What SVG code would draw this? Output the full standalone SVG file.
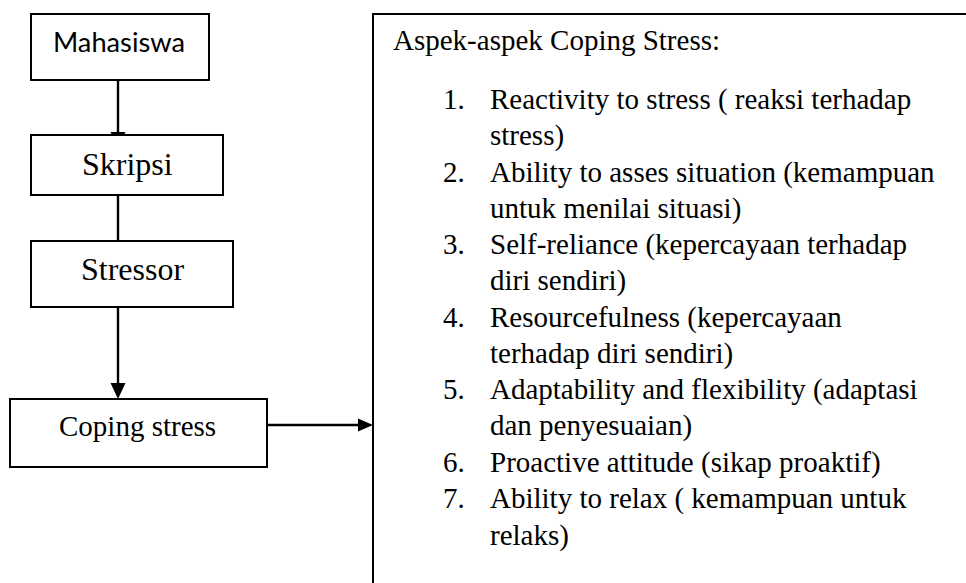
<svg xmlns="http://www.w3.org/2000/svg" width="966" height="583" viewBox="0 0 966 583">
<style>
.box{fill:#fff;stroke:#000;stroke-width:2}
.ln{fill:none;stroke:#000;stroke-width:2.4}
.serif{font-family:"Liberation Serif","Times New Roman",serif;fill:#000}
.sans{font-family:Lato,"Liberation Sans",Arial,sans-serif;fill:#000}
.lst{font-size:29px}
</style>
<rect width="966" height="583" fill="#fff"/>
<g id="connectors">
<line class="ln" x1="118" y1="80" x2="118" y2="134"/>
<path d="M110.5,132 L125.5,132 L118,147 Z" fill="#000"/>
<line class="ln" x1="118" y1="195" x2="118" y2="241"/>
<line class="ln" x1="118" y1="307" x2="118" y2="385"/>
<path d="M110.5,383 L125.5,383 L118,399 Z" fill="#000"/>
<line class="ln" x1="267" y1="425" x2="360" y2="425"/>
<path d="M358,418.5 L358,431.5 L373,425 Z" fill="#000"/>
</g>
<g id="mahasiswa">
<rect class="box" x="31" y="14" width="178" height="66"/>
<text class="sans" x="53" y="52" font-size="26" textLength="132" lengthAdjust="spacingAndGlyphs">Mahasiswa</text>
</g>
<g id="skripsi">
<rect class="box" x="31" y="135" width="192" height="60"/>
<text class="serif" x="82" y="175" font-size="32">Skripsi</text>
</g>
<g id="stressor">
<rect class="box" x="31" y="241" width="202" height="66"/>
<text class="serif" x="81" y="280" font-size="32">Stressor</text>
</g>
<g id="coping">
<rect class="box" x="10" y="399" width="257" height="68"/>
<text class="serif" x="59" y="436" font-size="29">Coping stress</text>
</g>
<g id="aspek">
<rect class="box" x="373" y="14" width="620" height="600"/>
<text class="serif lst" x="393" y="50">Aspek-aspek Coping Stress:</text>
<g class="serif lst">
<text x="443" y="109">1.</text>
<text x="490" y="109">Reactivity to stress ( reaksi terhadap</text>
<text x="490" y="145">stress)</text>
<text x="443" y="182">2.</text>
<text x="490" y="182">Ability to asses situation (kemampuan</text>
<text x="490" y="218">untuk menilai situasi)</text>
<text x="443" y="254">3.</text>
<text x="490" y="254">Self-reliance (kepercayaan terhadap</text>
<text x="490" y="290">diri sendiri)</text>
<text x="443" y="327">4.</text>
<text x="490" y="327">Resourcefulness (kepercayaan</text>
<text x="490" y="363">terhadap diri sendiri)</text>
<text x="443" y="399">5.</text>
<text x="490" y="399">Adaptability and flexibility (adaptasi</text>
<text x="490" y="435">dan penyesuaian)</text>
<text x="443" y="472">6.</text>
<text x="490" y="472">Proactive attitude (sikap proaktif)</text>
<text x="443" y="508">7.</text>
<text x="490" y="508">Ability to relax ( kemampuan untuk</text>
<text x="490" y="545">relaks)</text>
</g>
</g>
</svg>
